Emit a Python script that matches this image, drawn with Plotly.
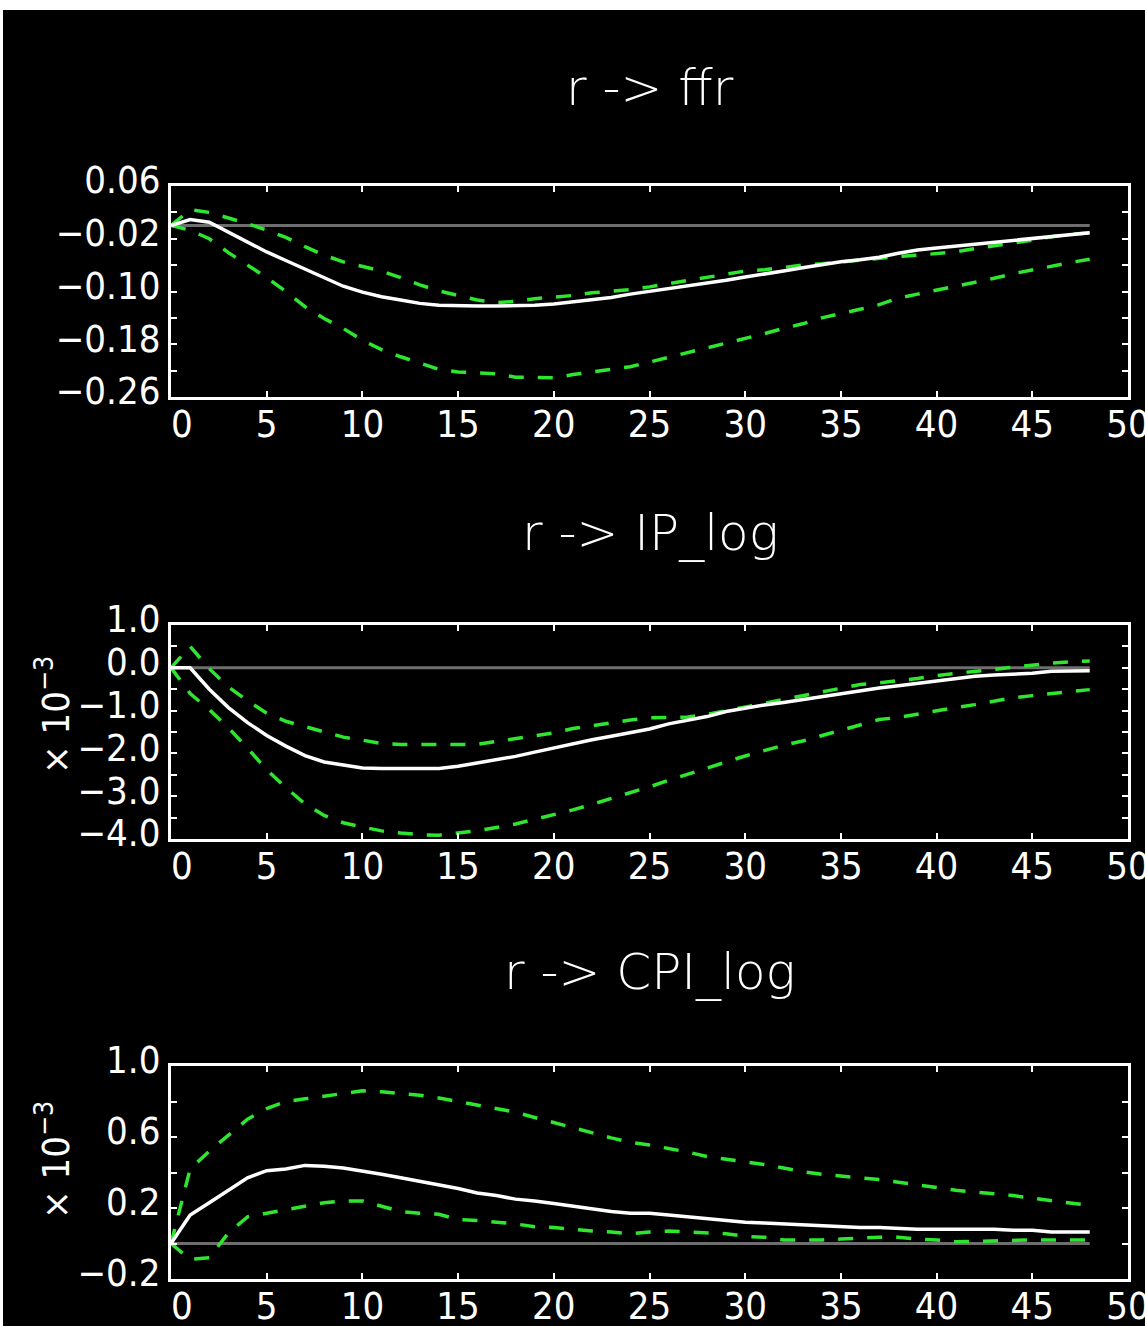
import plotly.graph_objects as go

# ---------------- data ----------------
horizon = list(range(49))

ffr_median = [0.000, 0.009, 0.005, -0.010, -0.026, -0.040, -0.053, -0.066, -0.080, -0.092,
              -0.101, -0.108, -0.113, -0.118, -0.121, -0.122, -0.122, -0.122, -0.122, -0.121,
              -0.119, -0.116, -0.113, -0.109, -0.104, -0.100, -0.096, -0.091, -0.087, -0.083,
              -0.078, -0.074, -0.069, -0.064, -0.059, -0.055, -0.052, -0.048, -0.042, -0.037,
              -0.034, -0.031, -0.028, -0.026, -0.023, -0.020, -0.017, -0.014, -0.011]
ffr_upper = [0.000, 0.024, 0.020, 0.012, 0.003, -0.007, -0.018, -0.032, -0.045, -0.055,
             -0.062, -0.069, -0.079, -0.090, -0.099, -0.106, -0.113, -0.117, -0.115, -0.111,
             -0.109, -0.106, -0.102, -0.100, -0.097, -0.093, -0.088, -0.084, -0.078, -0.073,
             -0.069, -0.067, -0.063, -0.060, -0.058, -0.055, -0.052, -0.049, -0.047, -0.045,
             -0.043, -0.040, -0.035, -0.031, -0.027, -0.022, -0.017, -0.013, -0.011]
ffr_lower = [0.000, -0.007, -0.020, -0.041, -0.060, -0.079, -0.100, -0.123, -0.141, -0.156,
             -0.174, -0.188, -0.199, -0.209, -0.218, -0.222, -0.223, -0.225, -0.230, -0.231,
             -0.231, -0.226, -0.222, -0.218, -0.214, -0.207, -0.200, -0.192, -0.185, -0.178,
             -0.172, -0.164, -0.156, -0.149, -0.140, -0.134, -0.127, -0.120, -0.110, -0.104,
             -0.098, -0.093, -0.087, -0.080, -0.073, -0.067, -0.062, -0.056, -0.051]

ip_median = [0.00, 0.00, -0.50, -0.93, -1.28, -1.58, -1.83, -2.05, -2.20, -2.28,
             -2.34, -2.35, -2.35, -2.35, -2.35, -2.30, -2.22, -2.16, -2.07, -1.97,
             -1.87, -1.77, -1.68, -1.60, -1.52, -1.43, -1.31, -1.23, -1.14, -1.02,
             -0.94, -0.87, -0.81, -0.74, -0.66, -0.60, -0.54, -0.47, -0.42, -0.36,
             -0.31, -0.25, -0.20, -0.17, -0.15, -0.13, -0.08, -0.07, -0.07]
ip_upper = [0.00, 0.50, -0.02, -0.45, -0.77, -1.06, -1.25, -1.38, -1.50, -1.62,
            -1.69, -1.77, -1.79, -1.79, -1.79, -1.79, -1.79, -1.72, -1.66, -1.58,
            -1.52, -1.42, -1.35, -1.27, -1.22, -1.17, -1.16, -1.15, -1.09, -1.01,
            -0.92, -0.83, -0.74, -0.65, -0.56, -0.47, -0.39, -0.35, -0.31, -0.25,
            -0.18, -0.13, -0.08, -0.04, 0.00, 0.07, 0.11, 0.14, 0.16]
ip_lower = [0.00, -0.60, -0.98, -1.40, -1.88, -2.38, -2.80, -3.18, -3.45, -3.62,
            -3.72, -3.81, -3.86, -3.90, -3.91, -3.86, -3.81, -3.73, -3.65, -3.54,
            -3.44, -3.32, -3.19, -3.06, -2.92, -2.78, -2.63, -2.48, -2.33, -2.20,
            -2.06, -1.93, -1.81, -1.71, -1.58, -1.45, -1.33, -1.21, -1.16, -1.08,
            -0.99, -0.93, -0.86, -0.77, -0.70, -0.65, -0.60, -0.56, -0.51]

cpi_median = [0.000, 0.160, 0.230, 0.300, 0.370, 0.410, 0.420, 0.440, 0.435, 0.425,
              0.410, 0.390, 0.370, 0.350, 0.330, 0.310, 0.285, 0.270, 0.250, 0.240,
              0.225, 0.210, 0.195, 0.180, 0.170, 0.170, 0.160, 0.150, 0.140, 0.130,
              0.120, 0.115, 0.110, 0.105, 0.100, 0.095, 0.090, 0.090, 0.085, 0.080,
              0.080, 0.080, 0.080, 0.080, 0.075, 0.075, 0.065, 0.065, 0.065]
cpi_upper = [0.000, 0.420, 0.520, 0.610, 0.700, 0.760, 0.800, 0.815, 0.830, 0.845,
             0.860, 0.855, 0.845, 0.835, 0.820, 0.800, 0.780, 0.760, 0.740, 0.710,
             0.680, 0.655, 0.625, 0.595, 0.570, 0.555, 0.535, 0.515, 0.490, 0.475,
             0.460, 0.445, 0.425, 0.405, 0.390, 0.380, 0.370, 0.360, 0.345, 0.330,
             0.315, 0.300, 0.290, 0.280, 0.270, 0.255, 0.240, 0.225, 0.215]
cpi_lower = [0.000, -0.090, -0.080, 0.060, 0.150, 0.170, 0.190, 0.210, 0.230, 0.240,
             0.240, 0.210, 0.180, 0.170, 0.165, 0.135, 0.130, 0.120, 0.110, 0.095,
             0.090, 0.080, 0.070, 0.065, 0.055, 0.065, 0.070, 0.065, 0.060, 0.055,
             0.040, 0.035, 0.020, 0.020, 0.020, 0.025, 0.030, 0.035, 0.035, 0.025,
             0.020, 0.010, 0.012, 0.015, 0.020, 0.020, 0.020, 0.020, 0.020]

titles = ["r -> ffr", "r -> IP_log", "r -> CPI_log"]
x_tickvals = list(range(0, 51, 5))
# the "0" label sits slightly right of its tick in the original (figure space before it)
x_ticktext = ["\u20070"] + [str(v) for v in x_tickvals[1:]]

ffr_ticks = [-0.26, -0.22, -0.18, -0.14, -0.10, -0.06, -0.02, 0.02, 0.06]
ffr_ticktext = ["\u22120.26", "", "\u22120.18", "", "\u22120.10", "", "\u22120.02", "", "0.06"]
ip_ticks = [-4.0, -3.5, -3.0, -2.5, -2.0, -1.5, -1.0, -0.5, 0.0, 0.5, 1.0]
ip_ticktext = ["\u22124.0", "", "\u22123.0", "", "\u22122.0", "", "\u22121.0", "", "0.0", "", "1.0"]
cpi_ticks = [-0.2, 0.0, 0.2, 0.4, 0.6, 0.8, 1.0]
cpi_ticktext = ["\u22120.2", "", "0.2", "", "0.6", "", "1.0"]

scale_label = "\u00d7 10<sup>\u22123</sup>"

# ---------------- figure ----------------
W, H = 1145, 1326
FONT = "Liberation Sans Narrow, DejaVu Sans Condensed, Roboto Condensed, Liberation Sans, sans-serif"
TITLE_FONT = "DejaVu Sans, Liberation Sans, sans-serif"
GREEN = "#2ee62e"
WHITE = "#ffffff"
GRAY = "#6e6e6e"

x_dom = [171 / W, 1128 / W]
y_doms = [[1 - 397 / H, 1 - 186 / H], [1 - 839 / H, 1 - 625 / H], [1 - 1279 / H, 1 - 1066 / H]]
y_ranges = [[-0.26, 0.06], [-4.0, 1.0], [-0.2, 1.0]]
y_ticks = [(ffr_ticks, ffr_ticktext), (ip_ticks, ip_ticktext), (cpi_ticks, cpi_ticktext)]
title_y = [88, 533, 972]

series = [(ffr_median, ffr_upper, ffr_lower),
          (ip_median, ip_upper, ip_lower),
          (cpi_median, cpi_upper, cpi_lower)]

fig = go.Figure()
for i, (med, up, lo) in enumerate(series):
    xa = "x" if i == 0 else f"x{i + 1}"
    ya = "y" if i == 0 else f"y{i + 1}"
    fig.add_trace(go.Scatter(x=[horizon[0], horizon[-1]], y=[0, 0], mode="lines",
                             line=dict(color=GRAY, width=3), xaxis=xa, yaxis=ya,
                             showlegend=False, hoverinfo="skip"))
    for band in (lo, up):
        fig.add_trace(go.Scatter(x=horizon, y=band, mode="lines",
                                 line=dict(color=GREEN, width=3.5, dash="15px,14px"),
                                 xaxis=xa, yaxis=ya, showlegend=False))
    fig.add_trace(go.Scatter(x=horizon, y=med, mode="lines",
                             line=dict(color=WHITE, width=3.5),
                             xaxis=xa, yaxis=ya, showlegend=False))

axis_common = dict(showgrid=False, zeroline=False, showline=True, linecolor=WHITE,
                   linewidth=3, mirror="ticks", ticks="inside", ticklen=6,
                   tickcolor=WHITE, tickwidth=2, automargin=False,
                   ticklabeloverflow="allow",
                   tickfont=dict(family=FONT, size=38, color=WHITE))

layout = dict(width=W, height=H, margin=dict(l=0, r=0, t=0, b=0, autoexpand=False),
              paper_bgcolor="black", plot_bgcolor="black", showlegend=False)
for i in range(3):
    sx = "" if i == 0 else str(i + 1)
    layout["xaxis" + sx] = dict(axis_common, domain=x_dom, range=[0, 50],
                                tickvals=x_tickvals, ticktext=x_ticktext,
                                anchor="y" + sx, ticklabelstandoff=-9)
    tv, tt = y_ticks[i]
    layout["yaxis" + sx] = dict(axis_common, domain=y_doms[i], range=y_ranges[i],
                                tickvals=tv, ticktext=tt, anchor="x" + sx,
                                ticklabelstandoff=0, ticklabelshift=-6)
fig.update_layout(**layout)

annotations = []
for i, t in enumerate(titles):
    annotations.append(dict(text=t, x=650 / W, y=1 - title_y[i] / H, xref="paper", yref="paper",
                            xanchor="center", yanchor="middle", showarrow=False,
                            font=dict(family=TITLE_FONT, size=50, color=WHITE, weight=200)))
for yc in (715, 1160):
    annotations.append(dict(text=scale_label, x=53 / W, y=1 - yc / H, xref="paper", yref="paper",
                            xanchor="center", yanchor="middle", showarrow=False, textangle=-90,
                            font=dict(family=FONT, size=38, color=WHITE)))
fig.update_layout(annotations=annotations)

# white border strips of the original image
fig.add_shape(type="rect", xref="paper", yref="paper", x0=0, x1=1, y0=1 - 10 / H, y1=1,
              fillcolor="white", line=dict(width=0), layer="above")
fig.add_shape(type="rect", xref="paper", yref="paper", x0=0, x1=3 / W, y0=0, y1=1,
              fillcolor="white", line=dict(width=0), layer="above")

fig.write_html("out.html")
